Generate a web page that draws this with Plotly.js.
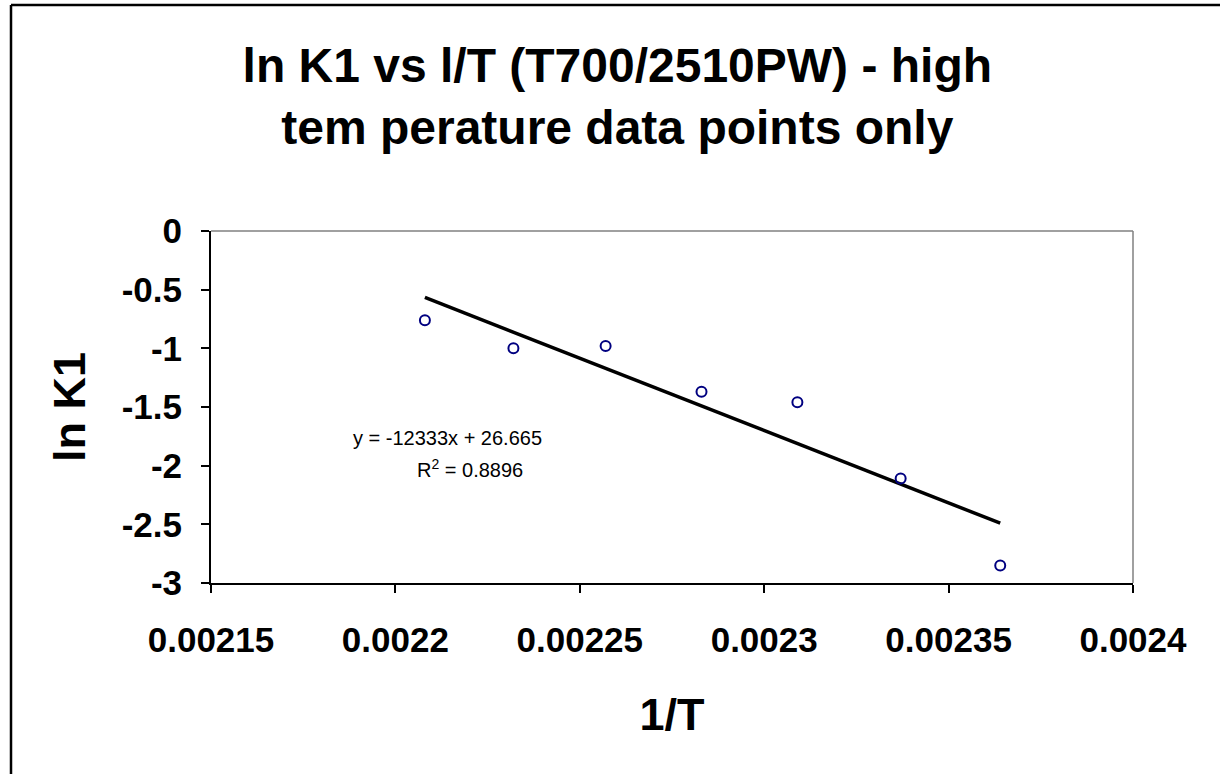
<!DOCTYPE html>
<html>
<head>
<meta charset="utf-8">
<script src="https://cdn.plot.ly/plotly-3.0.1.min.js"></script>
<style>
html,body{margin:0;padding:0;background:#fff;}
#chart{width:1220px;height:774px;}
</style>
</head>
<body>
<div id="chart"></div>
<script>
// Data
const invT = [0.002208, 0.002232, 0.002257, 0.002283, 0.002309, 0.002337, 0.002364];
const lnK1 = [-0.76, -1.00, -0.98, -1.37, -1.46, -2.11, -2.85];

// Trendline as printed on the chart: y = -12333x + 26.665
const slope = -12333;
const intercept = 26.665;
const trendX = [invT[0], invT[invT.length - 1]];
const trendY = trendX.map(x => slope * x + intercept);

const xTickVals = [0.00215, 0.0022, 0.00225, 0.0023, 0.00235, 0.0024];
const xTickText = ["0.00215", "0.0022", "0.00225", "0.0023", "0.00235", "0.0024"];
const yTickVals = [0, -0.5, -1, -1.5, -2, -2.5, -3];
const yTickText = ["0", "-0.5", "-1", "-1.5", "-2", "-2.5", "-3"];

const FONT = "Arial, 'Liberation Sans', Helvetica, sans-serif";

const traces = [
  {
    x: trendX, y: trendY, mode: "lines", type: "scatter",
    line: {color: "#000000", width: 3.5},
    hoverinfo: "skip", showlegend: false
  },
  {
    x: invT, y: lnK1, mode: "markers", type: "scatter",
    marker: {symbol: "circle-open", size: 10, color: "#000080", line: {color: "#000080", width: 2}},
    showlegend: false
  }
];

const layout = {
  width: 1220, height: 774,
  paper_bgcolor: "#ffffff", plot_bgcolor: "#ffffff",
  margin: {l: 211, r: 87, t: 231, b: 191, pad: 0},
  font: {family: FONT, color: "#000000"},
  title: {
    text: "<b>ln K1 vs l/T (T700/2510PW) - high<br>tem perature data points only</b>",
    font: {family: FONT, size: 48, color: "#000000"},
    x: 0.506, xref: "container", xanchor: "center",
    y: 1 - 82 / 774, yref: "container", yanchor: "top"
  },
  xaxis: {
    range: [0.00215, 0.0024],
    tickvals: xTickVals, ticktext: xTickText,
    ticks: "outside", ticklen: 8, tickwidth: 2, tickcolor: "#000000",
    tickfont: {family: FONT, size: 35, color: "#000000", weight: "bold"},
    ticklabelstandoff: 17,
    showline: true, linecolor: "#000000", linewidth: 2,
    showgrid: false, zeroline: false, mirror: false,
    title: {text: "<b>1/T</b>", font: {family: FONT, size: 45, color: "#000000"}, standoff: 40}
  },
  yaxis: {
    range: [-3, 0],
    tickvals: yTickVals, ticktext: yTickText,
    ticks: "outside", ticklen: 8, tickwidth: 2, tickcolor: "#000000",
    tickfont: {family: FONT, size: 35, color: "#000000", weight: "bold"},
    ticklabelstandoff: 12,
    showline: true, linecolor: "#000000", linewidth: 2,
    showgrid: false, zeroline: false, mirror: false,
    title: {text: "<b>ln K1</b>", font: {family: FONT, size: 45, color: "#000000"}, standoff: 22}
  },
  shapes: [
    // plot area frame (grey top and right edges)
    {type: "line", xref: "paper", yref: "paper", x0: 0, x1: 1, y0: 1, y1: 1, line: {color: "#808080", width: 1.5}},
    {type: "line", xref: "paper", yref: "paper", x0: 1, x1: 1, y0: 0, y1: 1, line: {color: "#808080", width: 1.5}},
    // outer chart border (top and left visible)
    {type: "line", xref: "paper", yref: "paper", x0: (11 - 211) / 922, x1: (1220 - 211) / 922, y0: (583 - 5) / 352, y1: (583 - 5) / 352, line: {color: "#000000", width: 2.5}},
    {type: "line", xref: "paper", yref: "paper", x0: (11 - 211) / 922, x1: (11 - 211) / 922, y0: (583 - 5) / 352, y1: (583 - 774) / 352, line: {color: "#000000", width: 2.5}}
  ],
  annotations: [
    {text: "y = -12333x + 26.665", xref: "paper", yref: "paper",
     x: (447 - 211) / 922, y: (583 - 438) / 352, xanchor: "center", yanchor: "middle",
     showarrow: false, font: {family: FONT, size: 20, color: "#000000"}},
    {text: "R<sup>2</sup> = 0.8896", xref: "paper", yref: "paper",
     x: (470 - 211) / 922, y: (583 - 468) / 352, xanchor: "center", yanchor: "middle",
     showarrow: false, font: {family: FONT, size: 20, color: "#000000"}}
  ]
};

Plotly.newPlot("chart", traces, layout, {displayModeBar: false, staticPlot: true});
</script>
</body>
</html>
